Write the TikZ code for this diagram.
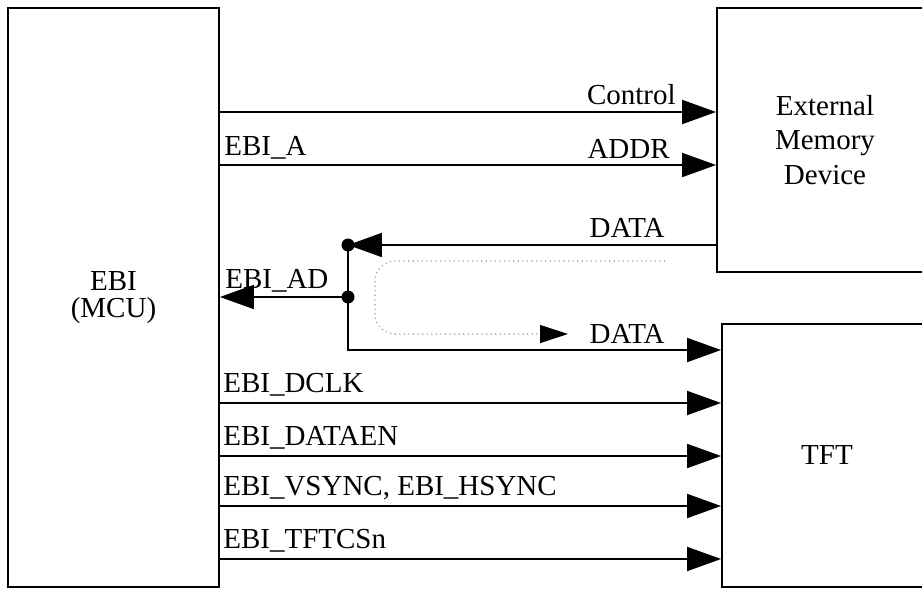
\documentclass[tikz,border=0pt]{standalone}
\usepackage{fontspec}
\setmainfont{Liberation Serif}
\usepackage{xcolor}
\usepackage{tikz}
\usetikzlibrary{arrows.meta,positioning,calc}
\definecolor{Ink}{HTML}{000000}
\definecolor{DotGray}{HTML}{8A8A8A}
\tikzset{
  blk/.style={draw=Ink,line width=1.1pt,inner sep=0pt,align=center,
    font=\fontsize{16.5}{19.8}\selectfont},
  sig/.style={draw=Ink,line width=1.1pt,-{Triangle[length=0.68cm,width=0.48cm]}},
  lbl/.style={inner sep=0pt,font=\fontsize{16.5}{19}\selectfont,text=Ink}}

\begin{document}
\begin{tikzpicture}[x=0.02cm,y=-0.02cm]
  \clip (0,0) rectangle (922,588);
  % blocks
  \node[blk,minimum width=4.22cm,minimum height=11.58cm,
    font=\fontsize{16.5}{15.5}\selectfont] (ebi) at (113.5,297.5){EBI\\(MCU)};
  \node[blk,minimum width=4.32cm,minimum height=5.28cm] (mem) at (825,140)
    {External\\Memory\\Device};
  \node[blk,minimum width=4.2cm,minimum height=5.26cm] (tft) at (827,455.5){TFT};
  % memory bus
  \draw[sig](ebi.east |- 0,112)--(mem.west |- 0,112);
  \draw[sig](ebi.east |- 0,165)--(mem.west |- 0,165);
  \node[lbl,anchor=base east] (ctl) at (676,105){Control};
  \node[lbl,anchor=base east] (addr) at (670,158){ADDR};
  \node[lbl,anchor=base west] (ebia) at (224,155){EBI\_A};
  % shared data bus
  \coordinate (jtop) at (348,245);
  \coordinate (jmid) at (348,297);
  \draw[sig](mem.west |- jtop)--(jtop);
  \draw[sig](jmid)--(ebi.east |- jmid);
  \draw[sig](jtop)--(jtop |- 0,350)--(tft.west |- 0,350);
  \fill[Ink](jtop) circle (0.13cm);
  \fill[Ink](jmid) circle (0.13cm);
  \node[lbl,anchor=base east] (datain) at (665,237){DATA};
  \node[lbl,anchor=base west] (ebiad) at (225,288){EBI\_AD};
  \node[lbl,anchor=base east] (dataout) at (665,343){DATA};
  \coordinate (dstart) at (665,261);
  \coordinate (dend) at (568,334);
  \draw[DotGray,line width=0.6pt,dotted,rounded corners=0.4cm,
    -{Triangle[length=0.56cm,width=0.36cm,color=Ink]}]
    (dstart)--(375,261)--(375,334)--(dend);
  % tft control lines
  \draw[sig](ebi.east |- 0,403)--(tft.west |- 0,403);
  \draw[sig](ebi.east |- 0,456)--(tft.west |- 0,456);
  \draw[sig](ebi.east |- 0,506)--(tft.west |- 0,506);
  \draw[sig](ebi.east |- 0,559)--(tft.west |- 0,559);
  \node[lbl,anchor=base west] (dclk) at (223,392){EBI\_DCLK};
  \node[lbl,anchor=base west] (daten) at (223,445){EBI\_DATAEN};
  \node[lbl,anchor=base west] (sync) at (223,495){EBI\_VSYNC, EBI\_HSYNC};
  \node[lbl,anchor=base west] (tftcs) at (223,548){EBI\_TFTCSn};
\end{tikzpicture}
\end{document}
